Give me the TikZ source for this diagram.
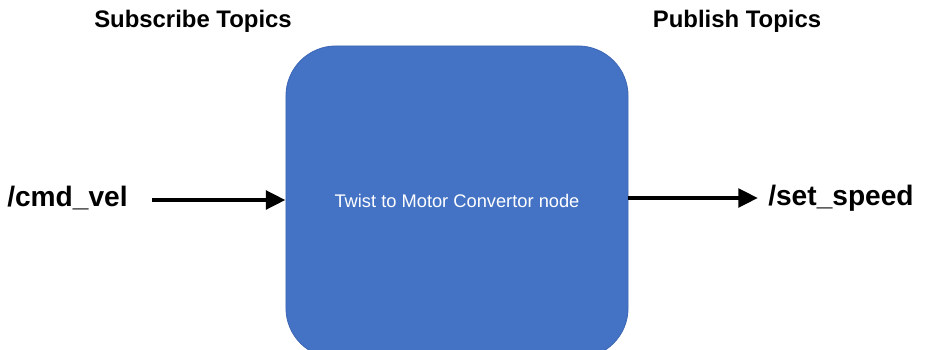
\documentclass[tikz,border=0pt]{standalone}
\usepackage{fontspec}
\setmainfont{Liberation Sans}
\usepackage{tikz}
\usetikzlibrary{arrows.meta,positioning}
\definecolor{nodeblue}{HTML}{4472C4}
\definecolor{nodeedge}{HTML}{3E68B5}

\begin{document}
\begin{tikzpicture}[x=0.025cm,y=-0.025cm,
    topic/.style={font=\fontsize{20}{24}\selectfont\bfseries},
    heading/.style={font=\fontsize{17}{20}\selectfont\bfseries},
    flow/.style={line width=3.2pt,-{Triangle[length=14pt,width=13pt]}}]
  \useasboundingbox (0,0) rectangle (926,349);
  \clip (0,0) rectangle (926,349);
  % converter node, cut off at the bottom
  \node[fill=nodeblue, draw=nodeedge, line width=0.6pt, rounded corners=1.25cm,
        minimum width=8.55cm, minimum height=7.8cm] (conv) at (457,202) {};
  \node[text=white, font=\fontsize{13}{16}\selectfont] (convlabel) at (457,201) {Twist to Motor Convertor node};

  \node[heading] (sub) at (193,21) {Subscribe Topics};
  \node[heading] (pub) at (737,21) {Publish Topics};

  \node[topic, anchor=west, inner sep=0pt] (cmd) at (7,198) {/cmd\_vel};
  \node[topic, anchor=west, inner sep=0pt] (speed) at (768,198) {/set\_speed};

  \coordinate (inleft) at (152,200);
  \coordinate (outtip) at (758,198);
  \draw[flow] (inleft) -- (inleft -| conv.west);
  \draw[flow] (conv.east |- outtip) -- (outtip);
\end{tikzpicture}
\end{document}
